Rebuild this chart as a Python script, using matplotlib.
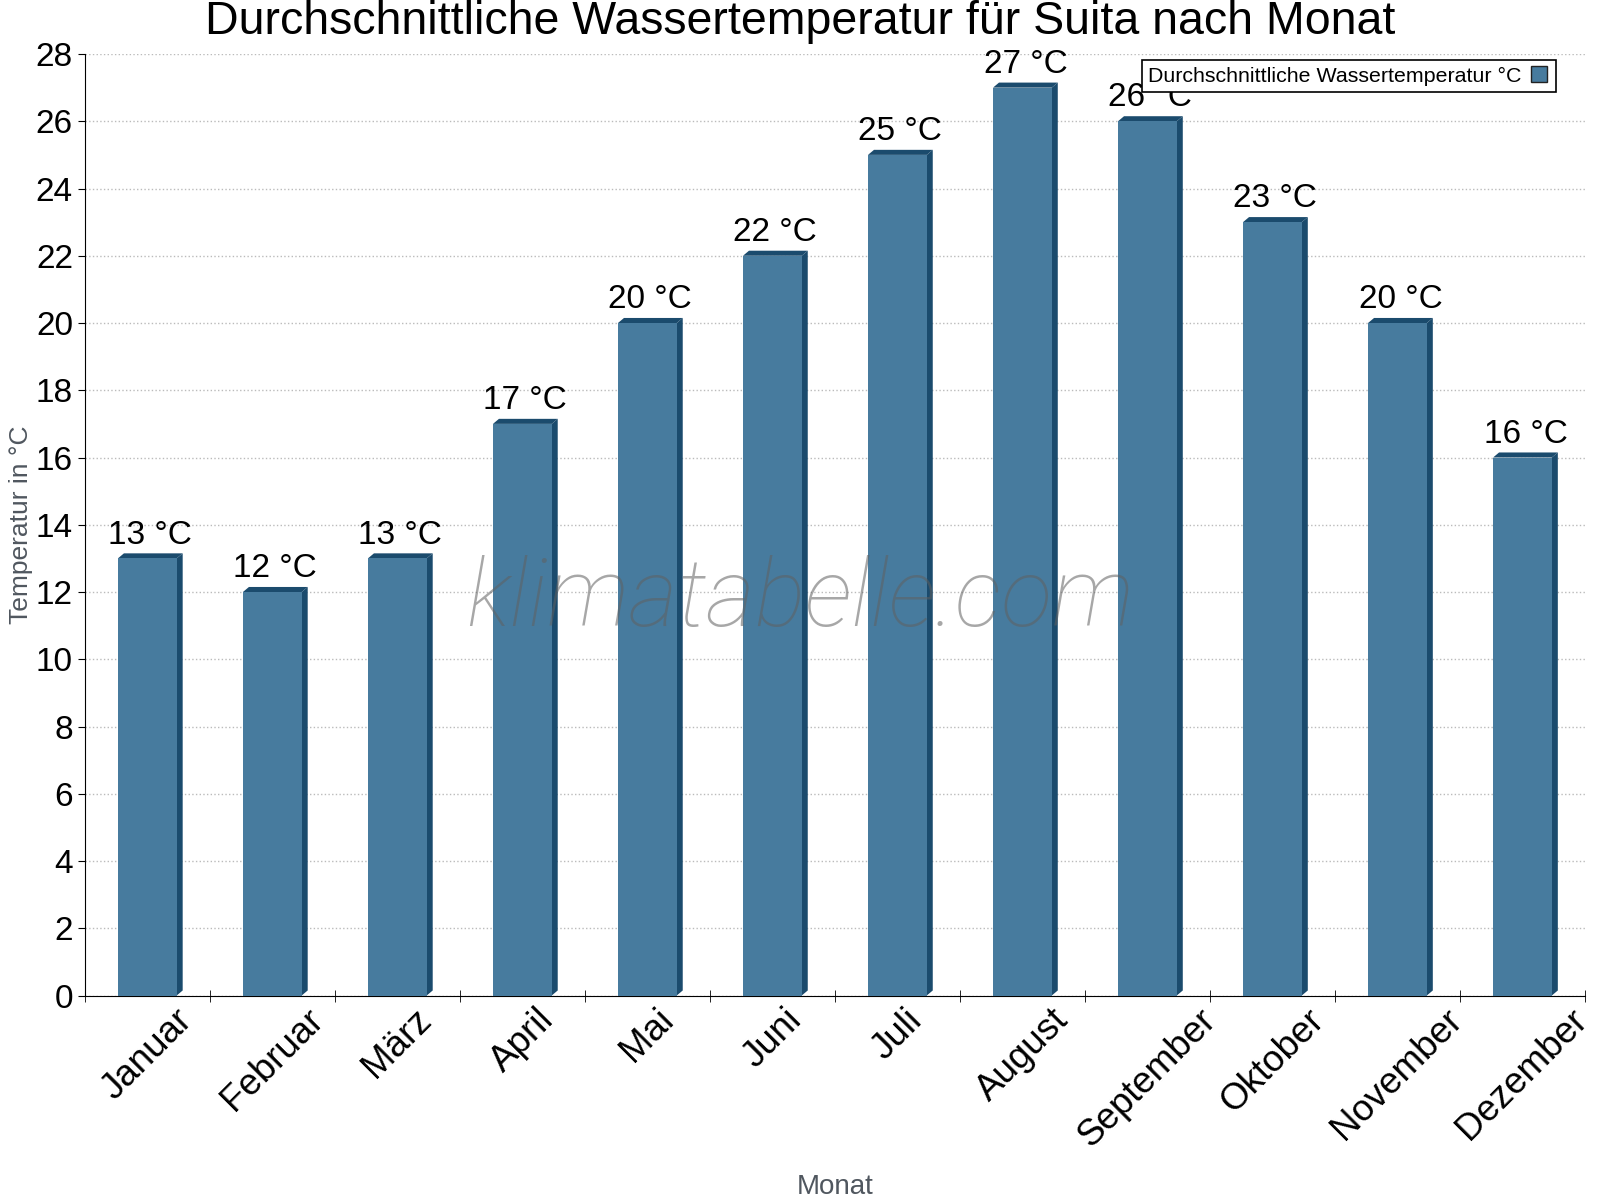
import numpy as np
import matplotlib
matplotlib.use('Agg')
import matplotlib.pyplot as plt
from matplotlib.lines import Line2D

months = ['Januar', 'Februar', 'März', 'April', 'Mai', 'Juni', 'Juli',
          'August', 'September', 'Oktober', 'November', 'Dezember']
water_temp = [13, 12, 13, 17, 20, 22, 25, 27, 26, 23, 20, 16]

front_color = '#477b9e'
side_color = '#1b4b6d'

plt.rcParams['font.family'] = ['Liberation Sans', 'DejaVu Sans']

fig = plt.figure(figsize=(16, 12), dpi=100)
ax = fig.add_axes([0.053, 0.1704, 0.9376, 0.7846])

x = np.arange(len(months))
w = 0.47
dx = 0.048
dy = 0.15

bars = ax.bar(x, water_temp, width=w, color=front_color, zorder=3)
# pseudo 3D: dark top and right side
for b in bars:
    x0 = b.get_x()
    x1 = x0 + b.get_width()
    h = b.get_height()
    ax.fill([x1, x1 + dx, x1 + dx, x1], [0, dy, h + dy, h],
            color=side_color, zorder=2, lw=0)
    ax.fill([x0, x0 + dx, x1 + dx, x1], [h, h + dy, h + dy, h],
            color=side_color, zorder=2, lw=0)
    ax.annotate(f'{h:.0f} °C', (b.get_x() + w / 2 + dx / 2, h + dy),
                xytext=(0, 2), textcoords='offset points',
                ha='center', va='bottom', fontsize=24, zorder=5)

ax.set_xlim(-0.5, len(months) - 0.5)
ax.set_ylim(0, 28)
ax.set_yticks(np.arange(0, 29, 2))
ax.tick_params(axis='y', labelsize=24, length=5, direction='out')
ax.set_xticks(x)
ax.set_xticklabels(months, rotation=45, ha='center', va='top', fontsize=26.5)
ax.tick_params(axis='x', which='major', length=0, pad=5)
ax.set_xticks(np.arange(len(months) + 1) - 0.5, minor=True)
ax.tick_params(axis='x', which='minor', length=9, direction='inout')

ax.grid(axis='y', linestyle=':', color='#bbbbbb', linewidth=1, zorder=0)
ax.spines['top'].set_visible(False)
ax.spines['right'].set_visible(False)

ax.set_ylabel('Temperatur in °C', fontsize=19, color='#50575f', labelpad=2)
ax.set_xlabel('Monat', fontsize=20, color='#50575f', labelpad=0)
ax.xaxis.set_label_coords(0.5, -0.19)

fig.text(0.5, 0.982, 'Durchschnittliche Wassertemperatur für Suita nach Monat',
         ha='center', va='center', fontsize=33.5)

handle = Line2D([], [], marker='s', linestyle='none', markersize=11,
                markerfacecolor=front_color, markeredgecolor='#222222')
leg = ax.legend([handle], ['Durchschnittliche Wassertemperatur °C'],
                loc='upper right', bbox_to_anchor=(0.985, 1.0), fontsize=15.4,
                markerfirst=False, fancybox=False, framealpha=1,
                edgecolor='black', handletextpad=0.3, handlelength=1.0,
                borderpad=0.3, borderaxespad=0.3)
leg.get_frame().set_linewidth(1.2)
leg.set_zorder(6)

ax.text(0.477, 0.42, 'klimatabelle.com', transform=ax.transAxes,
        ha='center', va='center', fontsize=68, style='italic',
        family=['Roboto', 'Liberation Sans'], fontweight='light',
        color='#606060', alpha=0.55, zorder=4)

fig.savefig('out.png', dpi=100)
